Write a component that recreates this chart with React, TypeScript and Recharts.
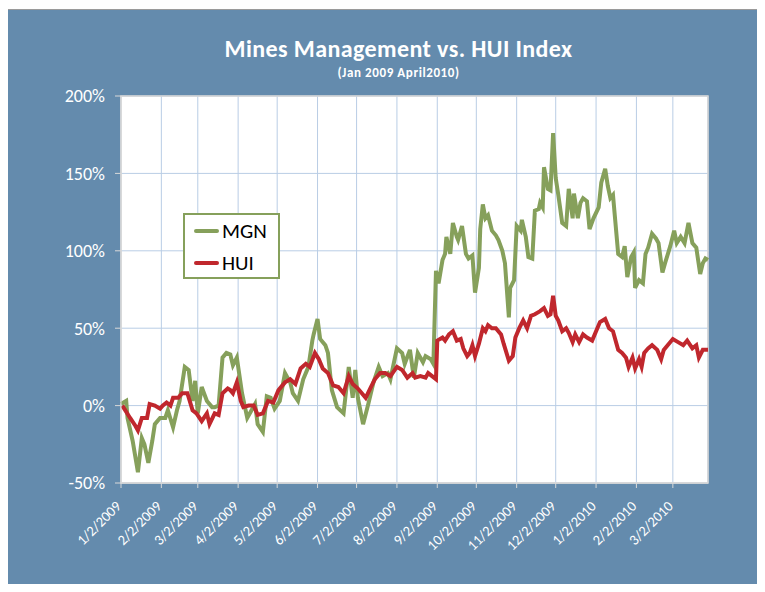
import React from "react";
import { LineChart, Line, XAxis, YAxis, CartesianGrid, Legend, ReferenceArea } from "recharts";

// days counted from 1/2/2009
const monthTicks = [0, 31, 59, 90, 120, 151, 181, 212, 243, 273, 304, 334, 365, 396, 424];
const monthLabels = [
  "1/2/2009", "2/2/2009", "3/2/2009", "4/2/2009", "5/2/2009", "6/2/2009", "7/2/2009",
  "8/2/2009", "9/2/2009", "10/2/2009", "11/2/2009", "12/2/2009", "1/2/2010", "2/2/2010", "3/2/2010",
];
const yTicks = [-50, 0, 50, 100, 150, 200];

const mgnDays = [
  0, 4, 5, 9, 13, 16, 18, 21, 24, 26, 30, 34, 36, 40, 43, 45, 49, 52, 55, 57, 59, 62, 66, 70, 72, 75,
  78, 81, 84, 86, 89, 93, 97, 99, 103, 105, 109, 112, 115, 118, 122, 126, 130, 132, 136, 140, 144, 147,
  148, 151, 153, 157, 159, 162, 166, 171, 175, 178, 180, 182, 186, 190, 194, 198, 201, 205, 207, 212,
  216, 218, 222, 225, 228, 232, 234, 238, 240, 242, 244, 247, 249, 250, 253, 255, 258, 259, 262, 265,
  267, 270, 272, 275, 276, 278, 280, 282, 285, 288, 290, 293, 295, 298, 299, 302, 304, 305, 307, 308,
  311, 313, 316, 318, 321, 322, 324, 325, 328, 330, 332, 334, 336, 339, 342, 344, 347, 348, 351, 353,
  355, 358, 360, 363, 367, 369, 372, 374, 376, 378, 382, 385, 387, 389, 392, 394, 395, 398, 401, 403,
  405, 408, 411, 413, 416, 418, 422, 425, 427, 430, 433, 436, 439, 442, 445, 447, 449, 451,
];
const mgnValues = [
  1, 3, -8, -23, -43, -21, -25, -37, -23, -12, -8, -8, -3, -14, -3, 3, 25, 23, 3, 16, -5, 12, 3, -1, -1, 0,
  31, 34, 33, 26, 31, 8, -8, -5, 1, -12, -17, 6, 5, -2, 3, 21, 15, 8, 3, 17, 25, 42,
  46, 56, 43, 39, 34, 10, -1, -5, 25, 5, 23, 5, -12, 1, 15, 25, 19, 21, 17, 37,
  34, 27, 36, 18, 34, 28, 32, 30, 27, 87, 79, 94, 98, 109, 98, 118, 109, 107, 116, 98,
  95, 97, 73, 89, 114, 130, 121, 123, 113, 110, 107, 100, 92, 57, 76, 81, 116, 115, 113, 120,
  109, 96, 95, 126, 127, 131, 128, 154, 140, 139, 176, 147, 136, 118, 116, 140, 121, 137, 121, 131,
  134, 132, 114, 121, 128, 144, 153, 142, 134, 136, 98, 96, 103, 83, 96, 99, 76, 81, 79, 98,
  102, 111, 108, 105, 86, 92, 103, 113, 105, 109, 105, 118, 105, 102, 85, 92, 95, 94,
];

const huiDays = [
  1, 7, 11, 13, 16, 20, 22, 26, 30, 32, 35, 38, 40, 44, 47, 51, 55, 58, 62, 66, 68, 72, 75, 78, 82, 84,
  86, 89, 92, 94, 98, 102, 105, 109, 113, 117, 121, 126, 130, 134, 138, 142, 145, 149, 152, 155, 159,
  163, 167, 171, 175, 178, 182, 188, 192, 195, 199, 203, 207, 212, 216, 220, 224, 226, 230, 234, 236,
  239, 242, 243, 247, 249, 252, 255, 258, 261, 263, 266, 268, 270, 272, 275, 278, 280, 282, 285, 288,
  292, 294, 298, 301, 303, 306, 309, 312, 315, 318, 322, 325, 328, 330, 332, 334, 336, 339, 342, 344,
  347, 349, 352, 355, 358, 362, 365, 368, 372, 375, 378, 382, 385, 388, 390, 393, 395, 398, 400, 402,
  405, 408, 412, 415, 417, 420, 424, 428, 432, 435, 439, 442, 444, 447, 451,
];
const huiValues = [
  0, -8, -13, -16, -8, -8, 1, 0, -2, 0, 2, 0, 5, 5, 8, 8, -3, -5, -10, -5, -12, -5, -6, 8, 11, 10,
  8, 15, 3, -1, 0, 0, -6, -5, 3, 2, 10, 15, 17, 14, 24, 27, 25, 34, 30, 24, 21,
  13, 12, 8, 19, 14, 11, 5, 12, 17, 21, 21, 19, 25, 23, 18, 21, 18, 19, 18, 21,
  19, 17, 42, 44, 42, 46, 48, 42, 43, 37, 32, 34, 39, 32, 40, 50, 48, 52, 50, 50,
  46, 40, 29, 32, 44, 50, 55, 50, 58, 59, 61, 63, 58, 59, 71, 58, 55, 48, 50, 47,
  41, 46, 41, 46, 44, 42, 48, 54, 56, 50, 48, 36, 34, 31, 25, 31, 24, 30, 25, 34,
  37, 39, 36, 30, 36, 39, 43, 41, 39, 42, 37, 39, 31, 36, 36,
];

const mgnData = mgnDays.map((d, i) => ({ day: d, MGN: mgnValues[i] }));
const huiData = huiDays.map((d, i) => ({ day: d, HUI: huiValues[i] }));

const FONT = "Carlito, 'Open Sans', 'Liberation Sans', sans-serif";
const BLUE = "#648bad";
const GREEN = "#86a05b";
const RED = "#c0272d";
const GRID = "#b9cde5";

function DateTick(props: any) {
  const { x, y, payload } = props;
  const idx = monthTicks.indexOf(payload.value);
  return (
    <g transform={`translate(${x + 1},${y + 17})`}>
      <text textAnchor="end" transform="rotate(-45)" fill="#fff" fontSize={14.5} fontFamily={FONT}>
        {monthLabels[idx]}
      </text>
    </g>
  );
}

function LegendBox() {
  const items = [
    { name: "MGN", color: GREEN },
    { name: "HUI", color: RED },
  ];
  return (
    <div
      style={{
        width: 97,
        height: 66,
        background: "#fff",
        border: `2px solid ${GREEN}`,
        boxSizing: "border-box",
        padding: "0 0 0 9px",
        fontFamily: FONT,
      }}
    >
      {items.map((it) => (
        <div key={it.name} style={{ display: "flex", alignItems: "center", height: 32 }}>
          <span style={{ width: 25, height: 4, background: it.color, display: "inline-block", borderRadius: 2 }} />
          <span style={{ fontSize: 21, color: "#000", marginLeft: 3, lineHeight: 1 }}>{it.name}</span>
        </div>
      ))}
    </div>
  );
}

export default function App() {
  return (
    <div style={{ position: "relative", width: 765, height: 592, margin: -8, background: "#fff", overflow: "hidden" }}>
      <div
        style={{
          position: "absolute",
          left: 6,
          top: 9,
          width: 759,
          height: 583,
          background: BLUE,
          borderTop: "1px solid #9a9a9a",
          borderLeft: "1px solid #9a9a9a",
          boxSizing: "border-box",
        }}
      />
      <div
        style={{
          position: "absolute",
          left: 16,
          width: 765,
          top: 34,
          textAlign: "center",
          color: "#fff",
          fontFamily: FONT,
          fontWeight: 700,
          fontSize: 24,
          letterSpacing: 0.4,
          whiteSpace: "nowrap",
        }}
      >
        Mines Management vs. HUI Index
      </div>
      <div
        style={{
          position: "absolute",
          left: 16,
          width: 765,
          top: 65,
          textAlign: "center",
          color: "#fff",
          fontFamily: FONT,
          fontWeight: 700,
          fontSize: 13,
          letterSpacing: 0.6,
          whiteSpace: "nowrap",
        }}
      >
        (Jan 2009 April2010)
      </div>
      <div style={{ position: "absolute", left: 0, top: 0 }}>
        <LineChart width={765} height={592} margin={{ top: 96, right: 57, bottom: 0, left: 61 }}>
          <CartesianGrid stroke={GRID} fill="#fff" vertical horizontal />
          <ReferenceArea x1={0} x2={451} y1={-50} y2={200} fill="none" stroke="#d4d4d4" strokeWidth={1.5} ifOverflow="visible" />
          <XAxis
            dataKey="day"
            type="number"
            domain={[0, 451]}
            ticks={monthTicks}
            interval={0}
            allowDuplicatedCategory={false}
            height={109}
            stroke="#d9d9d9"
            tickLine={{ stroke: "#d9d9d9" }}
            tickSize={5}
            tick={<DateTick />}
          />
          <YAxis
            type="number"
            domain={[-50, 200]}
            ticks={yTicks}
            interval={0}
            width={60}
            stroke="#d9d9d9"
            tickLine={{ stroke: "#d9d9d9" }}
            tickSize={6}
            tickMargin={10}
            tickFormatter={(v: number) => `${v}%`}
            tick={{ fill: "#fff", fontSize: 18, fontFamily: FONT }}
          />
          <Legend
            layout="horizontal"
            verticalAlign="middle"
            align="center"
            wrapperStyle={{ left: 183, top: 213, width: 97 }}
            content={() => <LegendBox />}
          />
          <Line
            data={mgnData}
            dataKey="MGN"
            stroke={GREEN}
            strokeWidth={4}
            dot={false}
            type="linear"
            isAnimationActive={false}
          />
          <Line
            data={huiData}
            dataKey="HUI"
            stroke={RED}
            strokeWidth={4}
            dot={false}
            type="linear"
            isAnimationActive={false}
          />
        </LineChart>
      </div>
    </div>
  );
}
